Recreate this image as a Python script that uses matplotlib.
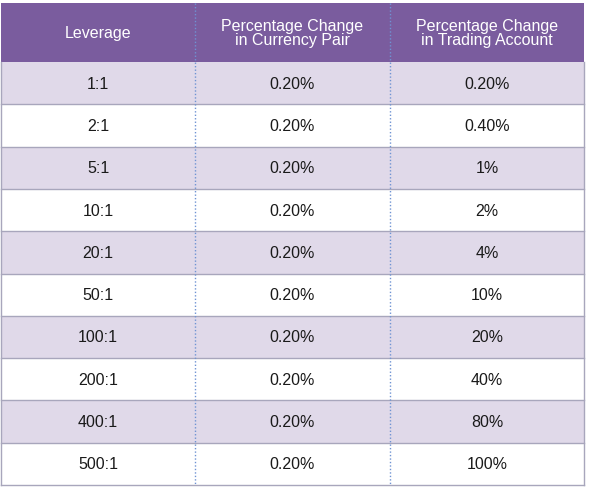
import matplotlib
matplotlib.use("Agg")
import matplotlib.pyplot as plt
from matplotlib.patches import Rectangle

headers = ["Leverage", "Percentage Change\nin Currency Pair", "Percentage Change\nin Trading Account"]
leverage = ["1:1", "2:1", "5:1", "10:1", "20:1", "50:1", "100:1", "200:1", "400:1", "500:1"]
pair_change = ["0.20%"] * 10
account_change = ["0.20%", "0.40%", "1%", "2%", "4%", "10%", "20%", "40%", "80%", "100%"]

W, H = 590, 487
fig = plt.figure(figsize=(W/100, H/100), dpi=100)
ax = fig.add_axes([0, 0, 1, 1])
ax.set_xlim(0, W); ax.set_ylim(H, 0); ax.axis("off")

left, right = 1, 584
top, head_bot = 3, 62
nrows = len(leverage)
rh = (485 - head_bot) / nrows
cols = [left, 195, 390, right]
centers = [(cols[i] + cols[i+1]) / 2 for i in range(3)]

ax.add_patch(Rectangle((left, top), right-left, head_bot-top, color="#7A5C9E", lw=0))
for i, h in enumerate(headers):
    ax.text(centers[i], (top+head_bot)/2 + 1, h, ha="center", va="center", color="white",
            fontsize=11.5, family="Liberation Sans", linespacing=1.0)

for r in range(nrows):
    y0 = head_bot + r*rh
    if r % 2 == 0:
        ax.add_patch(Rectangle((left, y0), right-left, rh, color="#E0D9E9", lw=0))
    ax.plot([left, right], [y0+rh, y0+rh], color="#A8A6BC", lw=1)
    for i, v in enumerate([leverage[r], pair_change[r], account_change[r]]):
        ax.text(centers[i], y0 + rh/2 + 1, v, ha="center", va="center", color="#1a1a1a",
                fontsize=11.5, family="Liberation Sans")

for x in cols[1:3]:
    ax.plot([x, x], [top, 485], color="#6F93D3", lw=1, ls=(0, (1, 1.5)))
ax.plot([right, right], [head_bot, 485], color="#A8A6BC", lw=1)
ax.plot([left, left], [head_bot, 485], color="#A8A6BC", lw=1)

fig.savefig("out.png", dpi=100)
